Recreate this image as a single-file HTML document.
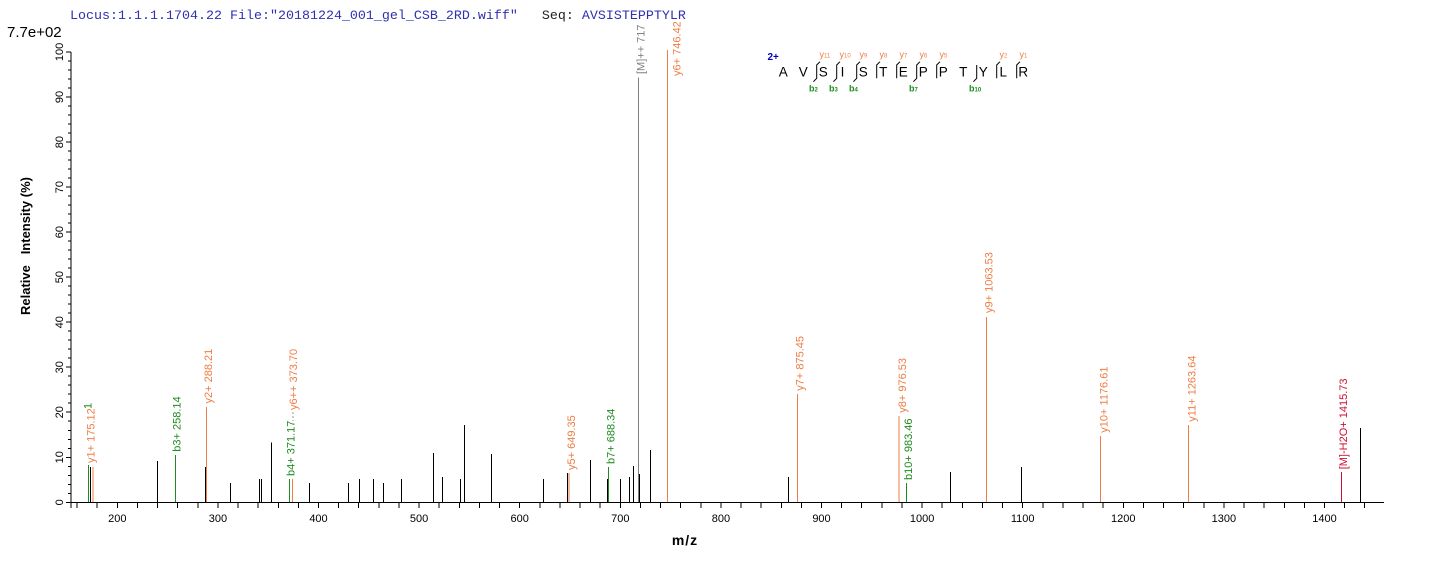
<!DOCTYPE html>
<html>
<head>
<meta charset="utf-8">
<style>
html,body{margin:0;padding:0;background:#fff;}
svg{display:block;}
text{font-family:"Liberation Sans",Arial,sans-serif;}
.mono{font-family:"Liberation Mono","Courier New",monospace;}
</style>
</head>
<body>
<svg width="1436" height="562" viewBox="0 0 1436 562" xmlns="http://www.w3.org/2000/svg">
<rect width="1436" height="562" fill="#fff"/>

<!-- Title -->
<text class="mono" x="70" y="19" font-size="13.33" fill="#3030b0" xml:space="preserve">Locus:1.1.1.1704.22 File:"20181224_001_gel_CSB_2RD.wiff"   <tspan fill="#222">Seq: </tspan>AVSISTEPPTYLR</text>
<text x="7" y="37" font-size="15" fill="#000">7.7e+02</text>

<!-- Axes -->
<g stroke="#000" stroke-width="1" shape-rendering="crispEdges" fill="none">
<line x1="71" y1="52" x2="71" y2="508"/>
<line x1="66" y1="502.5" x2="1384" y2="502.5"/>
<path d="M66 502.3H71M66 457.3H71M66 412.2H71M66 367.2H71M66 322.2H71M66 277.1H71M66 232.1H71M66 187.1H71M66 142.1H71M66 97H71M66 52H71"/>
<path d="M68 493.3H71M68 484.3H71M68 475.3H71M68 466.3H71M68 448.3H71M68 439.3H71M68 430.3H71M68 421.2H71M68 403.2H71M68 394.2H71M68 385.2H71M68 376.2H71M68 358.2H71M68 349.2H71M68 340.2H71M68 331.2H71M68 313.2H71M68 304.2H71M68 295.2H71M68 286.2H71M68 268.1H71M68 259.1H71M68 250.1H71M68 241.1H71M68 223.1H71M68 214.1H71M68 205.1H71M68 196.1H71M68 178.1H71M68 169.1H71M68 160.1H71M68 151.1H71M68 133.1H71M68 124.1H71M68 115.1H71M68 106.1H71M68 88H71M68 79H71M68 70H71M68 61H71"/>
<path d="M77.1 502V508M97.2 502V508M117.3 502V508M137.4 502V508M157.5 502V508M177.7 502V508M197.8 502V508M217.9 502V508M238 502V508M258.1 502V508M278.3 502V508M298.4 502V508M318.5 502V508M338.6 502V508M358.7 502V508M378.9 502V508M399 502V508M419.1 502V508M439.2 502V508M459.3 502V508M479.5 502V508M499.6 502V508M519.7 502V508M539.8 502V508M559.9 502V508M580.1 502V508M600.2 502V508M620.3 502V508M640.4 502V508M660.5 502V508M680.7 502V508M700.8 502V508M720.9 502V508M741 502V508M761.1 502V508M781.3 502V508M801.4 502V508M821.5 502V508M841.6 502V508M861.7 502V508M881.9 502V508M902 502V508M922.1 502V508M942.2 502V508M962.3 502V508M982.5 502V508M1002.6 502V508M1022.7 502V508M1042.8 502V508M1062.9 502V508M1083.1 502V508M1103.2 502V508M1123.3 502V508M1143.4 502V508M1163.5 502V508M1183.7 502V508M1203.8 502V508M1223.9 502V508M1244 502V508M1264.1 502V508M1284.3 502V508M1304.4 502V508M1324.5 502V508M1344.6 502V508M1364.7 502V508"/>
</g>

<!-- y tick labels -->
<g font-size="11" fill="#000" text-anchor="middle">
<text transform="translate(63,502.3) rotate(-90)">0</text>
<text transform="translate(63,457.3) rotate(-90)">10</text>
<text transform="translate(63,412.2) rotate(-90)">20</text>
<text transform="translate(63,367.2) rotate(-90)">30</text>
<text transform="translate(63,322.2) rotate(-90)">40</text>
<text transform="translate(63,277.1) rotate(-90)">50</text>
<text transform="translate(63,232.1) rotate(-90)">60</text>
<text transform="translate(63,187.1) rotate(-90)">70</text>
<text transform="translate(63,142.1) rotate(-90)">80</text>
<text transform="translate(63,97) rotate(-90)">90</text>
<text transform="translate(63,52) rotate(-90)">100</text>
</g>

<!-- x tick labels -->
<g font-size="11" fill="#000" text-anchor="middle">
<text x="117.3" y="522">200</text>
<text x="217.9" y="522">300</text>
<text x="318.5" y="522">400</text>
<text x="419.1" y="522">500</text>
<text x="519.7" y="522">600</text>
<text x="620.3" y="522">700</text>
<text x="720.9" y="522">800</text>
<text x="821.5" y="522">900</text>
<text x="922.1" y="522">1000</text>
<text x="1022.7" y="522">1100</text>
<text x="1123.3" y="522">1200</text>
<text x="1223.9" y="522">1300</text>
<text x="1324.5" y="522">1400</text>
</g>

<!-- Axis titles -->
<text transform="translate(30,315) rotate(-90)" font-size="13" font-weight="bold" fill="#000" xml:space="preserve">Relative   Intensity (%)</text>
<text x="685" y="545" font-size="14" font-weight="bold" fill="#000" text-anchor="middle" letter-spacing="1">m/z</text>

<!-- Black peaks -->
<g stroke="#000" stroke-width="1" shape-rendering="crispEdges">
<path d="M90.7 502V467M157.3 502V461M205.7 502V467M230.3 502V483M259.3 502V479M261.3 502V479M271.3 502V442.7M309.7 502V483M348.3 502V483M359.3 502V479M373.3 502V479M383.7 502V483M401.3 502V479M433.3 502V453M442.3 502V477M460.3 502V479M464.3 502V425M491.3 502V454M543.3 502V479M567.3 502V473M590.3 502V460M607.7 502V479M620.3 502V479M629.3 502V477M633.3 502V466M639.7 502V474M650.3 502V450M788.3 502V477M950.7 502V472M1021.7 502V467M1360.3 502V428"/>
</g>

<!-- Colored peaks -->
<g stroke-width="1" shape-rendering="crispEdges">
<path stroke="#1e8b1e" d="M88.3 502V465M175.7 502V455M289.7 502V479M608.7 502V467M906.3 502V483"/>
<path stroke="#ef7d45" d="M92.8 502V467M206.7 502V407M292.7 502V479M569 502V473M667.7 502V50M797.7 502V394M899 502V416M986.3 502V317M1100.7 502V436M1188.3 502V425"/>
<path stroke="#808080" d="M638.3 502V77.3"/>
<path stroke="#cc1133" d="M1341.3 502V472"/>
</g>

<line x1="293" y1="412" x2="293" y2="421" stroke="#999" stroke-width="1" stroke-dasharray="2,2"/>

<!-- Peak labels -->
<g font-size="11">
<text transform="translate(91.5,409) rotate(-90)" fill="#1e8b1e">1</text>
<text transform="translate(94.5,463) rotate(-90)" fill="#ef7d45">y1+ 175.12</text>
<text transform="translate(180.5,451.7) rotate(-90)" fill="#1e8b1e">b3+ 258.14</text>
<text transform="translate(212,403.5) rotate(-90)" fill="#ef7d45">y2+ 288.21</text>
<text transform="translate(294.5,476) rotate(-90)" fill="#1e8b1e">b4+ 371.17</text>
<text transform="translate(296.8,410) rotate(-90)" fill="#ef7d45">y6++ 373.70</text>
<text transform="translate(575,470) rotate(-90)" fill="#ef7d45">y5+ 649.35</text>
<text transform="translate(614.5,464) rotate(-90)" fill="#1e8b1e">b7+ 688.34</text>
<text transform="translate(644.5,74) rotate(-90)" fill="#808080">[M]++ 717</text>
<text transform="translate(680.5,76) rotate(-90)" fill="#ef7d45">y6+ 746.42</text>
<text transform="translate(803.5,390.7) rotate(-90)" fill="#ef7d45">y7+ 875.45</text>
<text transform="translate(906,412.7) rotate(-90)" fill="#ef7d45">y8+ 976.53</text>
<text transform="translate(911.8,480) rotate(-90)" fill="#1e8b1e">b10+ 983.46</text>
<text transform="translate(992.5,313) rotate(-90)" fill="#ef7d45">y9+ 1063.53</text>
<text transform="translate(1107.5,432.7) rotate(-90)" fill="#ef7d45">y10+ 1176.61</text>
<text transform="translate(1195.5,421.7) rotate(-90)" fill="#ef7d45">y11+ 1263.64</text>
<text transform="translate(1347,469.3) rotate(-90)" fill="#cc1133">[M]-H2O+ 1415.73</text>
</g>

<!-- Sequence annotation -->
<text x="767.5" y="60" font-size="10" font-weight="bold" fill="#0000c0">2+</text>
<g font-size="13.5" fill="#000" text-anchor="middle">
<text x="783.3" y="76.7">A</text>
<text x="803.3" y="76.7">V</text>
<text x="823.3" y="76.7">S</text>
<text x="842.5" y="76.7">I</text>
<text x="863.3" y="76.7">S</text>
<text x="883.3" y="76.7">T</text>
<text x="903.3" y="76.7">E</text>
<text x="923.3" y="76.7">P</text>
<text x="943.3" y="76.7">P</text>
<text x="963.3" y="76.7">T</text>
<text x="983.3" y="76.7">Y</text>
<text x="1003.3" y="76.7">L</text>
<text x="1023.3" y="76.7">R</text>
</g>
<g stroke="#000" stroke-width="1" fill="none">
<path d="M820 61.7L816.7 65V78.3L813.4 81.7"/>
<path d="M840 61.7L836.7 65V78.3L833.4 81.7"/>
<path d="M860 61.7L856.7 65V78.3L853.4 81.7"/>
<path d="M880 61.7L876.7 65V78.3"/>
<path d="M900 61.7L896.7 65V78.3"/>
<path d="M920 61.7L916.7 65V78.3L913.4 81.7"/>
<path d="M940 61.7L936.7 65V78.3"/>
<path d="M976.7 65V78.3L973.4 81.7"/>
<path d="M1000 61.7L996.7 65V78.3"/>
<path d="M1020 61.7L1016.7 65V78.3"/>
</g>
<g font-size="9" fill="#ef7d45">
<text x="819.5" y="57.5">y<tspan font-size="6">11</tspan></text>
<text x="839.5" y="57.5">y<tspan font-size="6">10</tspan></text>
<text x="859.5" y="57.5">y<tspan font-size="6">9</tspan></text>
<text x="879.5" y="57.5">y<tspan font-size="6">8</tspan></text>
<text x="899.5" y="57.5">y<tspan font-size="6">7</tspan></text>
<text x="919.5" y="57.5">y<tspan font-size="6">6</tspan></text>
<text x="939.5" y="57.5">y<tspan font-size="6">5</tspan></text>
<text x="999.5" y="57.5">y<tspan font-size="6">2</tspan></text>
<text x="1019.5" y="57.5">y<tspan font-size="6">1</tspan></text>
</g>
<g font-size="9" font-weight="bold" fill="#1e8b1e">
<text x="809" y="91.5">b<tspan font-size="6">2</tspan></text>
<text x="829" y="91.5">b<tspan font-size="6">3</tspan></text>
<text x="849" y="91.5">b<tspan font-size="6">4</tspan></text>
<text x="909" y="91.5">b<tspan font-size="6">7</tspan></text>
<text x="969" y="91.5">b<tspan font-size="6">10</tspan></text>
</g>
</svg>
</body>
</html>
